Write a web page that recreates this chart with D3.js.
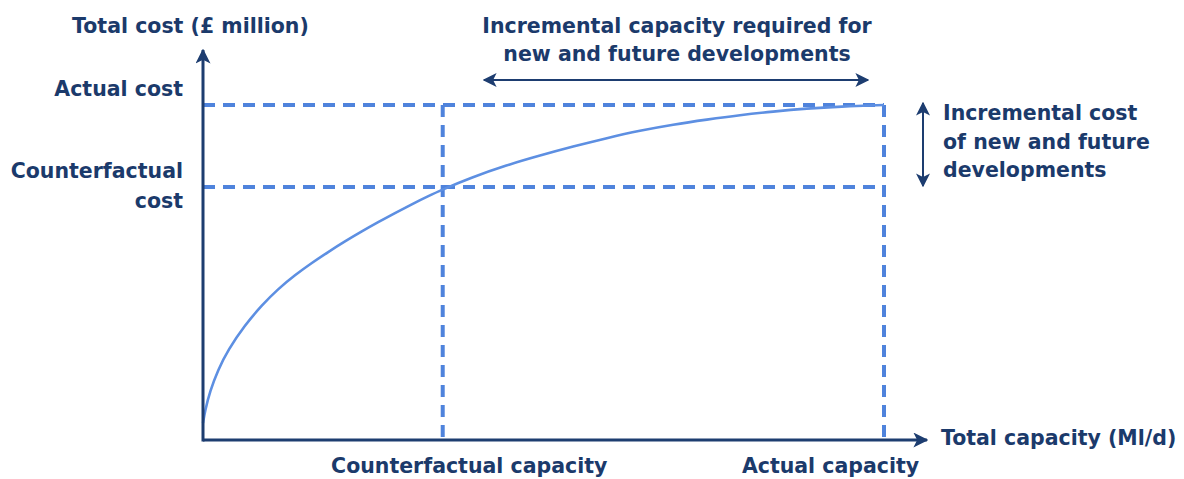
<!DOCTYPE html>
<html><head><meta charset="utf-8">
<script src="https://cdn.jsdelivr.net/npm/d3@7/dist/d3.min.js"></script>
<style>
body{margin:0;background:#fff;}
text{font-family:"DejaVu Sans",sans-serif;font-weight:bold;fill:#1b3a6b;}
</style></head>
<body><svg id="c" width="1184" height="479"></svg>
<script>
// ---- data ----
const curveCapacity = [0, 0.29, 1.03, 2.20, 3.67, 6.17, 8.66, 11.01, 13.51, 16.01, 18.36, 20.85, 23.35, 25.70, 28.19, 30.69, 33.04, 35.24, 39.21, 44.64, 49.49, 54.33, 59.32, 64.17, 69.02, 74.01, 78.85, 83.70, 88.69, 93.54, 100];
const curveCost     = [5.07, 8.66, 14.63, 20.90, 26.87, 34.33, 40.30, 45.07, 49.25, 52.9, 56.1, 59.3, 62.3, 65.0, 67.75, 70.4, 72.8, 74.8, 78.21, 82.09, 84.93, 87.61, 90.15, 92.39, 94.18, 95.67, 97.01, 98.06, 98.96, 99.55, 100];
const capacityMarks  = [35.2, 100];
const capacityLabels = ["Counterfactual capacity", "Actual capacity"];
const costMarks      = [75.5, 100];
const costLabels     = [["Counterfactual", "cost"], ["Actual cost"]];
const xAxisMax = 106.3, yAxisMax = 116.4;

const FS = 20.5;
const navy = "#1d3d70", blue = "#4f83dc", curveBlue = "#5d8fe2";
const labelShift = [26, -54]; // horizontal offset of bottom labels (style)
const svg = d3.select("#c");
const x = d3.scaleLinear().domain([0, 100]).range([203, 884]);
const y = d3.scaleLinear().domain([0, 100]).range([440, 105]);

const defs = svg.append("defs");
function marker(id, size){
  defs.append("marker").attr("id", id).attr("viewBox","0 0 10 10")
    .attr("refX", 9).attr("refY", 5).attr("markerWidth", size).attr("markerHeight", size)
    .attr("markerUnits","strokeWidth").attr("orient","auto-start-reverse")
    .append("path").attr("d","M0,0 L10,5 L0,10 L2.5,5 Z").attr("fill", navy);
}
marker("ah", 5);
marker("ah2", 7);

// dashed guide lines
const dash = "12,8";
costMarks.forEach(c => {
  svg.append("line").attr("x1", x(0)).attr("x2", x(100)).attr("y1", y(c)).attr("y2", y(c))
    .attr("stroke", blue).attr("stroke-width", 4).attr("stroke-dasharray", dash);
});
capacityMarks.forEach(c => {
  svg.append("line").attr("x1", x(c)).attr("x2", x(c)).attr("y1", y(100)).attr("y2", y(0))
    .attr("stroke", blue).attr("stroke-width", 4).attr("stroke-dasharray", dash);
});

// curve
const pts = curveCapacity.map((d,i)=>[d, curveCost[i]]);
svg.append("path").datum(pts)
  .attr("d", d3.line().x(d=>x(d[0])).y(d=>y(d[1])).curve(d3.curveBasis))
  .attr("fill","none").attr("stroke", curveBlue).attr("stroke-width", 2.6);

// axes lines with arrows
svg.append("line").attr("x1", x(0)).attr("y1", y(0)).attr("x2", x(xAxisMax)).attr("y2", y(0))
  .attr("stroke", navy).attr("stroke-width", 3).attr("marker-end","url(#ah)");
svg.append("line").attr("x1", x(0)).attr("y1", y(0)+1.5).attr("x2", x(0)).attr("y2", y(yAxisMax))
  .attr("stroke", navy).attr("stroke-width", 3).attr("marker-end","url(#ah)");

// bottom labels via d3 axis
const xa = svg.append("g").attr("transform", `translate(0,${y(0)})`)
  .call(d3.axisBottom(x).tickValues(capacityMarks).tickFormat((d,i)=>capacityLabels[i]).tickSize(0).tickPadding(18));
xa.select(".domain").remove();
xa.selectAll("text").attr("font-size", FS).attr("fill", navy)
  .attr("dx", (d,i)=>labelShift[i])
  .style("font-family", '"DejaVu Sans",sans-serif').style("font-weight","bold");

// left labels via d3 axis
const ya = svg.append("g").attr("transform", `translate(${x(0)},0)`)
  .call(d3.axisLeft(y).tickValues(costMarks).tickFormat("").tickSize(0));
ya.select(".domain").remove();
ya.selectAll(".tick").each(function(d,i){
  const lines = costLabels[i];
  const t = d3.select(this).append("text").attr("text-anchor","end").attr("x",-20)
    .attr("font-size", FS);
  lines.forEach((l,j)=> t.append("tspan").attr("x",-20).attr("y", -10 + j*30).text(l));
});

// axis titles
svg.append("text").attr("x", 72).attr("y", 33).attr("font-size", FS).text("Total cost (£ million)");
svg.append("text").attr("x", x(xAxisMax)+14).attr("y", y(0)+5).attr("font-size", FS).text("Total capacity (Ml/d)");

// incremental capacity annotation
const cx = 677;
svg.append("text").attr("x", cx).attr("y", 33).attr("text-anchor","middle").attr("font-size", FS)
  .text("Incremental capacity required for");
svg.append("text").attr("x", cx).attr("y", 61).attr("text-anchor","middle").attr("font-size", FS)
  .text("new and future developments");
svg.append("line").attr("x1", 484).attr("x2", 868).attr("y1", 80).attr("y2", 80)
  .attr("stroke", navy).attr("stroke-width", 2)
  .attr("marker-start","url(#ah2)").attr("marker-end","url(#ah2)");

// incremental cost annotation
svg.append("line").attr("x1", 923).attr("x2", 923).attr("y1", 103).attr("y2", 186)
  .attr("stroke", navy).attr("stroke-width", 2)
  .attr("marker-start","url(#ah2)").attr("marker-end","url(#ah2)");
["Incremental cost","of new and future","developments"].forEach((l,i)=>{
  svg.append("text").attr("x", 943).attr("y", 120 + i*28.5).attr("font-size", FS).text(l);
});
</script></body></html>
